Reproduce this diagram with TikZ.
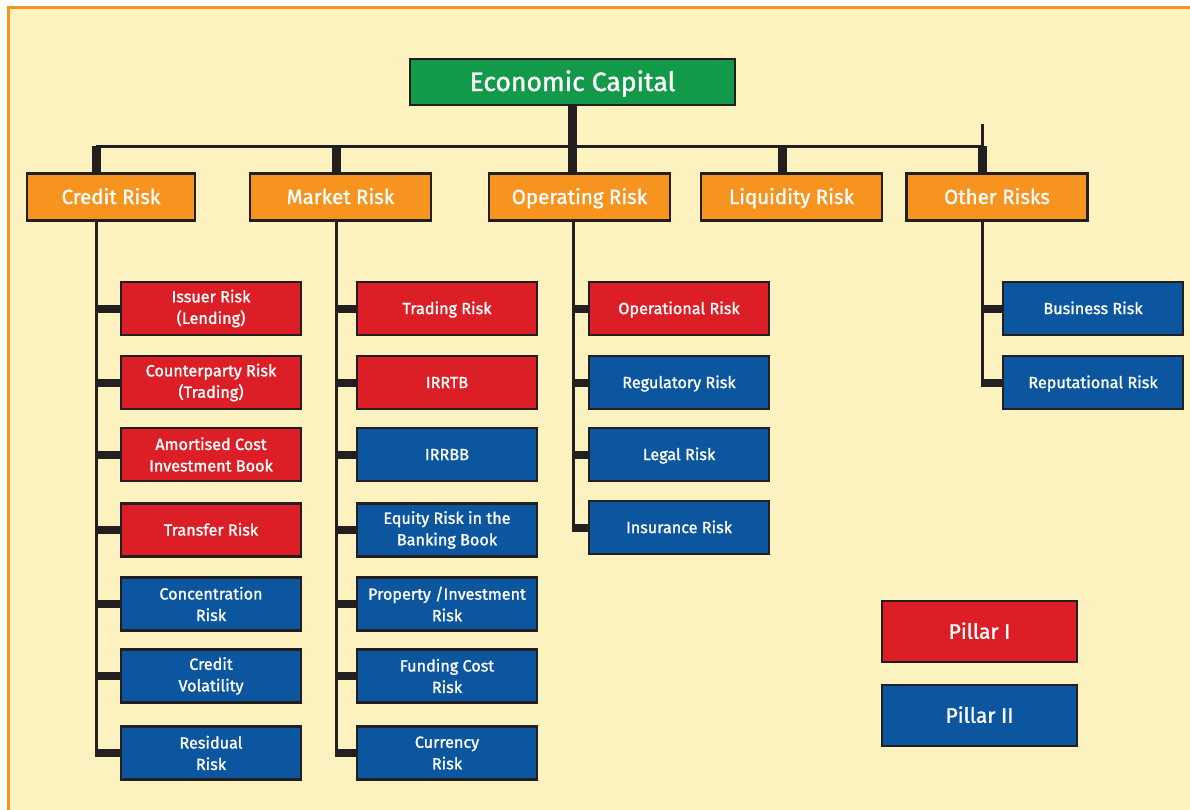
\documentclass[tikz,border=0pt]{standalone}
\usepackage{fontspec}
\setmainfont{Fira Sans}[BoldFont={Fira Sans},BoldFeatures={FakeBold=1.3}]
\definecolor{paper}{HTML}{FCF2C0}
\definecolor{ecgreen}{HTML}{12994A}
\definecolor{riskorange}{HTML}{F7941F}
\definecolor{pillarred}{HTML}{DC1F26}
\definecolor{pillarblue}{HTML}{0C56A0}
\definecolor{inkline}{HTML}{231F20}
\begin{document}
\begin{tikzpicture}[x=1pt,y=-1pt,
  box/.style={draw=inkline,line width=2.2pt,text=white,align=center,inner sep=0pt},
  head/.style={box,fill=riskorange,minimum width=181pt,minimum height=47pt,one=14pt,font=\bfseries\fontsize{20.5}{24}\selectfont},
  sub/.style={box,minimum width=180pt,minimum height=53pt,font=\bfseries\fontsize{16.2}{21.5}\selectfont},
  one/.style={text height=#1,text depth=0pt},
  pone/.style={sub,fill=pillarred},
  ptwo/.style={sub,fill=pillarblue},
  bus/.style={draw=inkline,line width=3pt},
  stem/.style={draw=inkline,line width=9pt},
  twig/.style={draw=inkline,line width=8pt}]
  \useasboundingbox (0,0) rectangle (1190,809);
  % frame
  \fill[paper] (8.5,7.5) rectangle (1210,830);
  \draw[riskorange,line width=3pt] (8.5,830) -- (8.5,7.5) -- (1210,7.5);
  % top and first level
  \node[box,fill=ecgreen,minimum width=325pt,minimum height=46pt,one=18pt,font=\bfseries\fontsize{26.5}{30}\selectfont] (ec) at (572.5,82) {Economic Capital};
  \node[head,minimum width=168pt] (credit) at (111,197) {Credit Risk};
  \node[head] (market) at (340.5,197) {Market Risk};
  \node[head] (operating) at (579.5,197) {Operating Risk};
  \node[head] (liquidity) at (791.5,197) {Liquidity Risk};
  \node[head] (other) at (997,197) {Other Risks};
  % credit risk
  \node[pone] (c1) at (211,308.5) {Issuer Risk\\(Lending)};
  \node[pone] (c2) at (211,382.5) {Counterparty Risk\\(Trading)};
  \node[pone] (c3) at (211,454.5) {Amortised Cost\\Investment Book};
  \node[pone,one=11.2pt] (c4) at (211,530) {Transfer Risk};
  \node[ptwo] (c5) at (211,604) {Concentration\\Risk};
  \node[ptwo] (c6) at (211,676) {Credit\\Volatility};
  \node[ptwo] (c7) at (211,753) {Residual\\Risk};
  % market risk
  \node[pone,one=11.2pt] (m1) at (447,308.5) {Trading Risk};
  \node[pone,one=11.2pt] (m2) at (447,382.5) {IRRTB};
  \node[ptwo,one=11.2pt] (m3) at (447,454.5) {IRRBB};
  \node[ptwo] (m4) at (447,530) {Equity Risk in the\\Banking Book};
  \node[ptwo] (m5) at (447,604) {Property /Investment\\Risk};
  \node[ptwo] (m6) at (447,676) {Funding Cost\\Risk};
  \node[ptwo] (m7) at (447,753) {Currency\\Risk};
  % operating risk
  \node[pone,one=11.2pt] (o1) at (679,308.5) {Operational Risk};
  \node[ptwo,one=11.2pt] (o2) at (679,382.5) {Regulatory Risk};
  \node[ptwo,one=11.2pt] (o3) at (679,454.5) {Legal Risk};
  \node[ptwo,one=11.2pt] (o4) at (679,527.5) {Insurance Risk};
  % other risks
  \node[ptwo,one=11.2pt] (r1) at (1093,308.5) {Business Risk};
  \node[ptwo,one=11.2pt] (r2) at (1093,382.5) {Reputational Risk};
  % legend
  \node[box,fill=pillarred,minimum width=195pt,minimum height=61pt,one=14.5pt,font=\bfseries\fontsize{21}{26}\selectfont] (pillarI) at (979.5,631.5) {Pillar I};
  \node[box,fill=pillarblue,minimum width=195pt,minimum height=61pt,one=14.5pt,font=\bfseries\fontsize{21}{26}\selectfont] (pillarII) at (979.5,715.5) {Pillar II};
  % bus and spines
  \coordinate (cr) at (96,146);
  \coordinate (mk) at (336,146);
  \coordinate (op) at (573,146);
  \coordinate (lq) at (782,146);
  \coordinate (ot) at (982,146);
  \coordinate (tick) at (982,124);
  \draw[bus] (cr) -- (ot);
  \draw[bus] (tick) -- (ot);
  \draw[stem] (ec.south) -- (ec.south |- operating.north);
  \draw[stem] (cr) -- (cr |- credit.north);
  \draw[stem] (mk) -- (mk |- market.north);
  \draw[stem] (lq) -- (lq |- liquidity.north);
  \draw[stem] (ot) -- (ot |- other.north);
  \draw[bus] (cr |- credit.south) -- ([yshift=-4pt]cr |- c7.west);
  \draw[bus] (mk |- market.south) -- ([yshift=-4pt]mk |- m7.west);
  \draw[bus] (op |- operating.south) -- ([yshift=-4pt]op |- o4.west);
  \draw[bus] (ot |- other.south) -- ([yshift=-4pt]ot |- r2.west);
  % twigs
  \draw[twig] (cr |- c1.west) -- (c1.west);
  \draw[twig] (cr |- c2.west) -- (c2.west);
  \draw[twig] (cr |- c3.west) -- (c3.west);
  \draw[twig] (cr |- c4.west) -- (c4.west);
  \draw[twig] (cr |- c5.west) -- (c5.west);
  \draw[twig] (cr |- c6.west) -- (c6.west);
  \draw[twig] (cr |- c7.west) -- (c7.west);
  \draw[twig] (mk |- m1.west) -- (m1.west);
  \draw[twig] (mk |- m2.west) -- (m2.west);
  \draw[twig] (mk |- m3.west) -- (m3.west);
  \draw[twig] (mk |- m4.west) -- (m4.west);
  \draw[twig] (mk |- m5.west) -- (m5.west);
  \draw[twig] (mk |- m6.west) -- (m6.west);
  \draw[twig] (mk |- m7.west) -- (m7.west);
  \draw[twig] (op |- o1.west) -- (o1.west);
  \draw[twig] (op |- o2.west) -- (o2.west);
  \draw[twig] (op |- o3.west) -- (o3.west);
  \draw[twig] (op |- o4.west) -- (o4.west);
  \draw[twig] (ot |- r1.west) -- (r1.west);
  \draw[twig] (ot |- r2.west) -- (r2.west);
\end{tikzpicture}
\end{document}
